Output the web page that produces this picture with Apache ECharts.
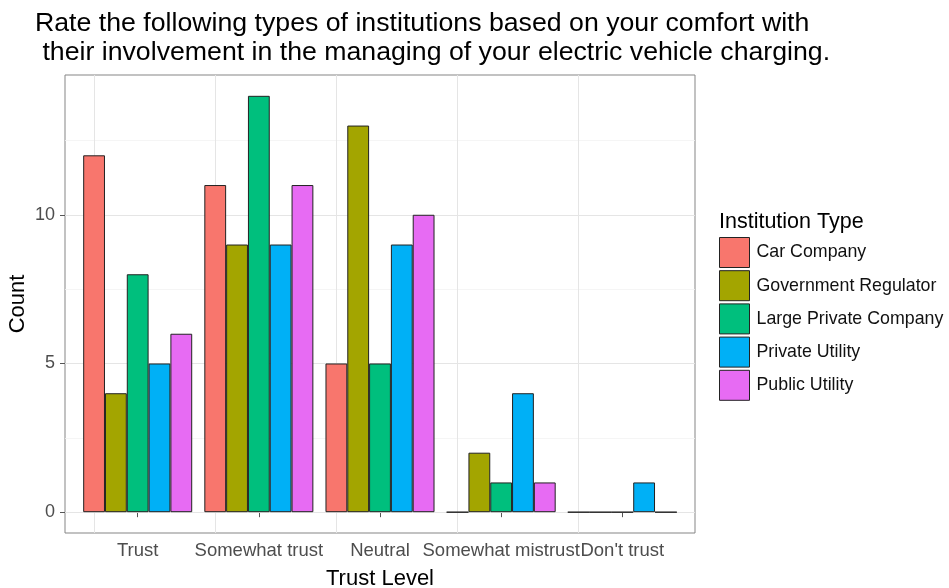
<!DOCTYPE html>
<html>
<head>
<meta charset="utf-8">
<script src="https://cdn.jsdelivr.net/npm/echarts@6/dist/echarts.min.js"></script>
<style>html,body{margin:0;padding:0;background:#fff}#c{width:949px;height:588px}</style>
</head>
<body>
<div id="c"></div>
<script>
const categories = ['Trust', 'Somewhat trust', 'Neutral', 'Somewhat mistrust', "Don't trust"];
const seriesNames = ['Car Company', 'Government Regulator', 'Large Private Company', 'Private Utility', 'Public Utility'];
const carCompany = [12, 11, 5, 0, 0];
const governmentRegulator = [4, 9, 13, 2, 0];
const largePrivateCompany = [8, 14, 5, 1, 0];
const privateUtility = [5, 9, 9, 4, 1];
const publicUtility = [6, 11, 10, 1, 0];
const yTicks = [0, 5, 10];
const yMinor = [2.5, 7.5, 12.5];
const colors = ['#F8766D', '#A3A500', '#00BF7D', '#00B0F6', '#E76BF3'];

const allValues = [carCompany, governmentRegulator, largePrivateCompany, privateUtility, publicUtility];
const catPos = categories.map((c, i) => i + 1);
const font = '"Liberation Sans", Arial, sans-serif';

const chart = echarts.init(document.getElementById('c'), null, {renderer: 'canvas'});

const series = allValues.map((vals, k) => {
  const s = {
    name: seriesNames[k],
    type: 'bar',
    z: 3,
    barWidth: '18%',
    barGap: '0%',
    itemStyle: {color: colors[k], borderColor: '#222', borderWidth: 1},
    emphasis: {disabled: true},
    data: vals.map((v, i) => [catPos[i], v])
  };
  if (k === 0) {
    s.markLine = {
      silent: true, symbol: 'none', z: 1, animation: false,
      label: {show: false},
      data: [
        ...yMinor.map(v => ({yAxis: v, lineStyle: {color: '#f2f2f2', width: 0.8, type: 'solid'}})),
        ...yTicks.map(v => ({yAxis: v, lineStyle: {color: '#e5e5e5', width: 1, type: 'solid'}})),
        ...catPos.map(v => ({xAxis: v, lineStyle: {color: '#e5e5e5', width: 1, type: 'solid'}}))
      ]
    };
  }
  return s;
});

chart.setOption({
  animation: false,
  backgroundColor: '#fff',
  title: [
    {
      text: 'Rate the following types of institutions based on your comfort with\n their involvement in the managing of your electric vehicle charging.',
      left: 35, top: 9, padding: 0,
      textStyle: {fontFamily: font, fontSize: 26.7, fontWeight: 'normal', color: '#000', lineHeight: 29}
    },
    {
      text: 'Institution Type',
      left: 719, top: 211, padding: 0,
      textStyle: {fontFamily: font, fontSize: 21.5, fontWeight: 'normal', color: '#000'}
    }
  ],
  legend: {
    orient: 'vertical',
    left: 719, top: 237, padding: 0,
    itemWidth: 30, itemHeight: 30, itemGap: 2.2,
    icon: 'rect',
    selectedMode: false,
    textStyle: {fontFamily: font, fontSize: 17.8, color: '#111', padding: [0, 0, 0, 2]},
    data: seriesNames.map((n, k) => ({name: n, itemStyle: {color: colors[k], borderColor: '#222', borderWidth: 1}}))
  },
  grid: {left: 65, right: 254, top: 75, bottom: 55, outerBoundsMode: 'none', containLabel: false,
         show: true, borderColor: '#858585', borderWidth: 1, backgroundColor: 'transparent'},
  xAxis: {
    type: 'value', min: 0.4, max: 5.6,
    name: 'Trust Level', nameLocation: 'middle', nameGap: 35, nameMoveOverlap: false,
    nameTextStyle: {fontFamily: font, fontSize: 22, color: '#000'},
    axisLine: {show: false},
    splitLine: {show: false},
    axisTick: {show: true, length: 5, customValues: catPos, lineStyle: {color: '#555'}},
    axisLabel: {customValues: catPos, formatter: v => categories[Math.round(v) - 1] || '', fontFamily: font, fontSize: 18.5, color: '#4d4d4d', margin: 8}
  },
  yAxis: {
    type: 'value', min: -0.7, max: 14.7,
    name: 'Count', nameLocation: 'middle', nameGap: 36, nameRotate: 90, nameMoveOverlap: false,
    nameTextStyle: {fontFamily: font, fontSize: 22, color: '#000'},
    axisLine: {show: false},
    splitLine: {show: false},
    axisTick: {show: true, length: 5, customValues: yTicks, lineStyle: {color: '#555'}},
    axisLabel: {customValues: yTicks, fontFamily: font, fontSize: 18, color: '#4d4d4d', margin: 10}
  },
  series: series
});
</script>
</body>
</html>
